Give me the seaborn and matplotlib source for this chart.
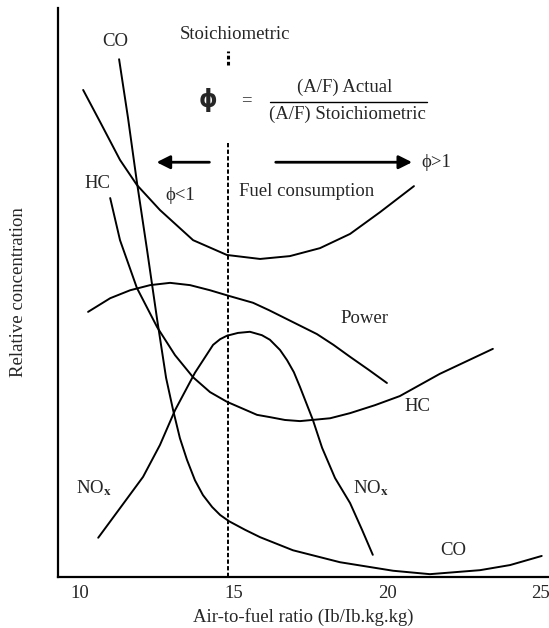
import numpy as np
import pandas as pd
import matplotlib
matplotlib.use("Agg")
import matplotlib.pyplot as plt
import seaborn as sns

# Curves (x = air-to-fuel ratio, y = relative concentration 0-100)
fuel_x = [10.10, 10.65, 11.30, 11.85, 12.60, 13.68, 14.78, 15.86, 16.83, 17.81, 18.79, 19.76, 20.87]
fuel_y = [85.6, 80.0, 73.3, 68.9, 64.5, 59.2, 56.6, 55.9, 56.4, 57.8, 60.3, 64.1, 68.7]

co_x = [11.27, 11.56, 11.85, 12.18, 12.51, 12.80, 13.03, 13.25, 13.48, 13.74, 14.00, 14.30,
        14.56, 14.85, 15.37, 15.86, 16.93, 18.46, 20.19, 21.39, 23.02, 24.00, 25.03]
co_y = [91.0, 80.7, 69.4, 57.5, 45.2, 35.0, 29.3, 24.4, 20.6, 17.0, 14.4, 12.3,
        10.9, 9.8, 8.3, 7.0, 4.7, 2.6, 1.1, 0.5, 1.2, 2.1, 3.7]

hc_x = [10.98, 11.30, 11.85, 12.51, 13.09, 13.68, 14.23, 14.78, 15.76, 16.18, 16.67, 17.16, 18.14,
        18.79, 19.60, 20.41, 21.71, 23.44]
hc_y = [66.6, 59.2, 50.8, 43.9, 39.0, 35.1, 32.5, 30.8, 28.5, 28.1, 27.6, 27.4, 27.9,
        28.8, 30.2, 31.8, 35.7, 40.1]

power_x = [10.26, 10.98, 11.63, 12.28, 12.93, 13.58, 14.23, 14.85, 15.63, 16.15, 16.67, 17.71,
           18.25, 18.79, 19.40, 19.99]
power_y = [46.6, 49.0, 50.4, 51.3, 51.7, 51.3, 50.4, 49.4, 48.2, 46.9, 45.5, 42.7,
           40.8, 38.7, 36.4, 34.1]

nox_x = [10.59, 11.30, 12.05, 12.60, 13.09, 13.74, 14.33, 14.56, 14.78, 15.14, 15.53, 15.92,
         16.18, 16.51, 16.74, 16.96, 17.16, 17.58, 17.88, 18.30, 18.79, 19.18, 19.53]
nox_y = [6.9, 12.1, 17.6, 23.2, 29.3, 35.9, 40.8, 41.8, 42.4, 42.9, 43.1, 42.5,
         41.7, 39.9, 38.1, 36.0, 33.4, 27.6, 22.7, 17.4, 13.0, 8.3, 3.9]

x_ticks = [10, 15, 20, 25]
stoich = 14.8

sns.set_style("white")
plt.rcParams["font.family"] = ["Liberation Serif", "DejaVu Serif"]
plt.rcParams["mathtext.fontset"] = "stix"

fig = plt.figure(figsize=(5.49, 6.28), dpi=100)
ax = fig.add_axes([0.1056, 0.0812, 0.894, 0.906])

curves = {"fuel": (fuel_x, fuel_y), "co": (co_x, co_y), "hc": (hc_x, hc_y),
          "power": (power_x, power_y), "nox": (nox_x, nox_y)}
for name, (xs, ys) in curves.items():
    d = pd.DataFrame({"x": xs, "y": ys})
    sns.lineplot(data=d, x="x", y="y", sort=False, estimator=None,
                 color="black", lw=1.4, ax=ax)
    ax.lines[-1].set_solid_joinstyle("round")

# stoichiometric line
ax.plot([stoich, stoich], [0, 76.3], color="black", lw=1.4, ls=(0, (2.2, 1.2)))
ax.plot([stoich, stoich], [90.0, 92.4], color="black", lw=2.2, ls=(0, (1.2, 0.8)))

# arrows
ax.annotate("", xy=(12.4, 72.9), xytext=(14.3, 72.9),
            arrowprops=dict(arrowstyle="-|>", lw=2, color="black", mutation_scale=20))
ax.annotate("", xy=(20.9, 72.9), xytext=(16.28, 72.9),
            arrowprops=dict(arrowstyle="-|>", lw=2, color="black", mutation_scale=20))

fs = 13.5
ax.text(11.14, 94.2, "CO", fontsize=fs, ha="center", va="center")
ax.text(15.04, 95.3, "Stoichiometric", fontsize=fs, ha="center", va="center")
ax.text(14.17, 83.8, "ϕ", fontsize=17, fontweight="bold", ha="center", va="center",
        family=["DejaVu Sans"])
ax.text(15.43, 83.8, "=", fontsize=fs, ha="center", va="center")
ax.text(18.6, 86.0, "(A/F) Actual", fontsize=fs, ha="center", va="center")
ax.plot([16.18, 21.29], [83.5, 83.5], color="black", lw=1.0)
ax.text(18.72, 81.4, "(A/F) Stoichiometric", fontsize=fs, ha="center", va="center")
ax.text(21.1, 72.9, "ϕ>1", fontsize=fs, ha="left", va="center")
ax.text(12.77, 67.1, "ϕ<1", fontsize=fs, ha="left", va="center")
ax.text(10.55, 69.2, "HC", fontsize=fs, ha="center", va="center")
ax.text(17.39, 67.7, "Fuel consumption", fontsize=fs, ha="center", va="center")
ax.text(19.27, 45.5, "Power", fontsize=fs, ha="center", va="center")
ax.text(20.97, 29.9, "HC", fontsize=fs, ha="center", va="center")
ax.text(10.45, 15.6, r"NO$_{\mathbf{x}}$", fontsize=fs, ha="center", va="center")
ax.text(19.47, 15.6, r"NO$_{\mathbf{x}}$", fontsize=fs, ha="center", va="center")
ax.text(22.14, 4.7, "CO", fontsize=fs, ha="center", va="center")

ax.set_xlim(9.28, 25.26)
ax.set_ylim(0, 100)
ax.set_xticks(x_ticks)
ax.set_yticks([])
ax.tick_params(axis="x", length=0, pad=6, labelsize=fs)
ax.set_xlabel("Air-to-fuel ratio (Ib/Ib.kg.kg)", fontsize=fs, labelpad=4)
ax.set_ylabel("Relative concentration", fontsize=fs, labelpad=22)

sns.despine(ax=ax)
for s in ["left", "bottom"]:
    ax.spines[s].set_linewidth(1.6)
    ax.spines[s].set_color("black")

fig.savefig("out.png", dpi=100)
